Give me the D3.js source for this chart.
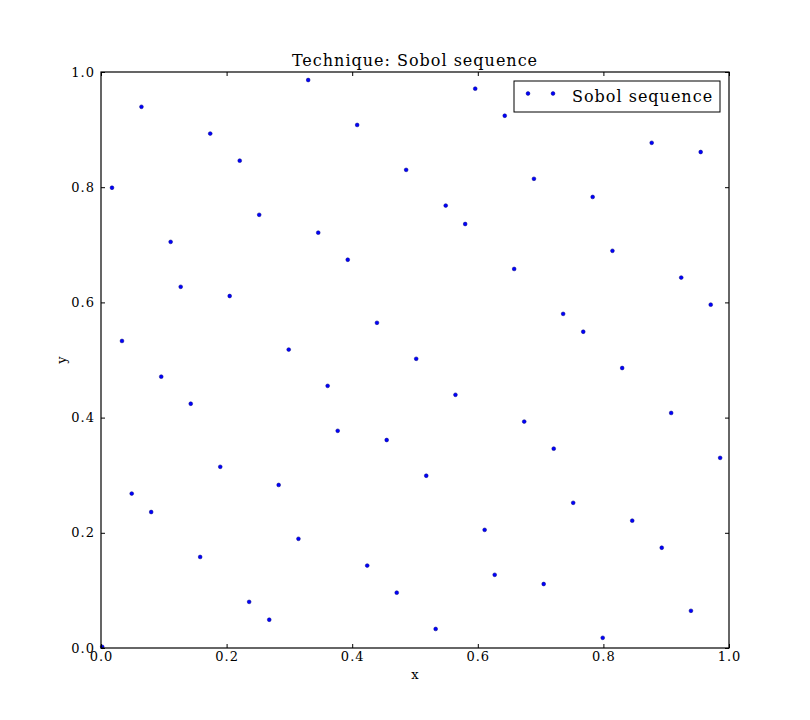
<!DOCTYPE html>
<html>
<head>
<meta charset="utf-8">
<script src="https://cdn.jsdelivr.net/npm/d3@7"></script>
<style>
  body { margin: 0; background: #fff; }
  text { font-family: "DejaVu Serif", serif; fill: #000; }
</style>
</head>
<body>
<svg id="chart" width="810" height="720"></svg>
<script>
const title = "Technique: Sobol sequence";
const seriesName = "Sobol sequence";
const xLabel = "x";
const yLabel = "y";
const tickValues = [0, 0.2, 0.4, 0.6, 0.8, 1.0];

const xs = [0.000, 0.0156, 0.0625, 0.0315, 0.094, 0.109, 0.125, 0.141, 0.172, 0.188,
            0.047, 0.078, 0.156, 0.203, 0.219, 0.234, 0.250, 0.266, 0.281, 0.297,
            0.3125, 0.328, 0.344, 0.359, 0.375, 0.391, 0.406, 0.422, 0.4375, 0.453,
            0.469, 0.484, 0.500, 0.516, 0.531, 0.547, 0.5625, 0.578, 0.594, 0.609,
            0.625, 0.641, 0.656, 0.672, 0.6875, 0.703, 0.719, 0.734, 0.750, 0.766,
            0.781, 0.797, 0.8125, 0.828, 0.844, 0.859, 0.875, 0.891, 0.906, 0.922,
            0.9375, 0.953, 0.969, 0.984];
const ys = [0.000, 0.797, 0.9375, 0.531, 0.469, 0.703, 0.625, 0.422, 0.891, 0.3125,
            0.266, 0.234, 0.156, 0.609, 0.844, 0.078, 0.750, 0.047, 0.281, 0.516,
            0.1875, 0.984, 0.719, 0.453, 0.375, 0.672, 0.906, 0.141, 0.5625, 0.359,
            0.094, 0.828, 0.500, 0.297, 0.031, 0.766, 0.4375, 0.734, 0.969, 0.203,
            0.125, 0.922, 0.656, 0.391, 0.8125, 0.109, 0.344, 0.578, 0.250, 0.547,
            0.781, 0.0156, 0.6875, 0.484, 0.219, 0.953, 0.875, 0.172, 0.406, 0.641,
            0.0625, 0.859, 0.594, 0.328];

const svg = d3.select("#chart");
const L = 101, R = 729, T = 72, B = 648;
const x = d3.scaleLinear().domain([0, 1]).range([L, R]);
const y = d3.scaleLinear().domain([0, 1]).range([B, T]);
const fmt = d3.format(".1f");
const tickLen = 4;

// points
const pts = xs.map((v, i) => ({x: v, y: ys[i]}));
svg.append("g").selectAll("circle").data(pts).join("circle")
  .attr("cx", d => x(d.x) + 1.2)
  .attr("cy", d => y(d.y) - 1.2)
  .attr("r", 1.9)
  .attr("fill", "#0000ff")
  .attr("stroke", "#00007a")
  .attr("stroke-width", 0.5);

// axes (ticks inward)
const axB = d3.axisBottom(x).tickValues(tickValues).tickFormat(fmt).tickSizeInner(-tickLen).tickSizeOuter(0).tickPadding(6);
const axL = d3.axisLeft(y).tickValues(tickValues).tickFormat(fmt).tickSizeInner(-tickLen).tickSizeOuter(0).tickPadding(6);
const axT = d3.axisTop(x).tickValues(tickValues).tickFormat("").tickSizeInner(-tickLen).tickSizeOuter(0);
const axR = d3.axisRight(y).tickValues(tickValues).tickFormat("").tickSizeInner(-tickLen).tickSizeOuter(0);

function style(g) {
  g.select(".domain").remove();
  g.selectAll("line").attr("stroke", "#000").attr("stroke-width", 1);
  g.selectAll("text").attr("font-size", 13).attr("letter-spacing", 1)
    .style("font-family", "'DejaVu Serif', serif").attr("fill", "#000");
}
svg.append("g").attr("transform", `translate(0,${B})`).call(axB).call(style)
  .selectAll("text").attr("dy", "0.5em");
svg.append("g").attr("transform", `translate(${L},0)`).call(axL).call(style);
svg.append("g").attr("transform", `translate(0,${T})`).call(axT).call(style);
svg.append("g").attr("transform", `translate(${R},0)`).call(axR).call(style);

// frame
svg.append("rect").attr("x", L).attr("y", T).attr("width", R - L).attr("height", B - T)
  .attr("fill", "none").attr("stroke", "#000").attr("stroke-width", 1.2);

// title & labels
svg.append("text").attr("x", (L + R) / 2).attr("y", 66).attr("text-anchor", "middle")
  .attr("font-size", 16).attr("letter-spacing", 1).text(title);
svg.append("text").attr("x", (L + R) / 2).attr("y", 679).attr("text-anchor", "middle")
  .attr("font-size", 13).text(xLabel);
svg.append("text").attr("transform", `translate(66,${(T + B) / 2}) rotate(-90)`)
  .attr("text-anchor", "middle").attr("font-size", 13).text(yLabel);

// legend
const lg = svg.append("g");
lg.append("rect").attr("x", 514).attr("y", 81).attr("width", 206).attr("height", 31)
  .attr("fill", "#fff").attr("stroke", "#000").attr("stroke-width", 1);
[528, 553].forEach(px => {
  lg.append("circle").attr("cx", px).attr("cy", 93.5).attr("r", 1.9)
    .attr("fill", "#0000ff").attr("stroke", "#00007a").attr("stroke-width", 0.5);
});
lg.append("text").attr("x", 572).attr("y", 102).attr("font-size", 16)
  .attr("letter-spacing", 1).text(seriesName);
</script>
</body>
</html>
